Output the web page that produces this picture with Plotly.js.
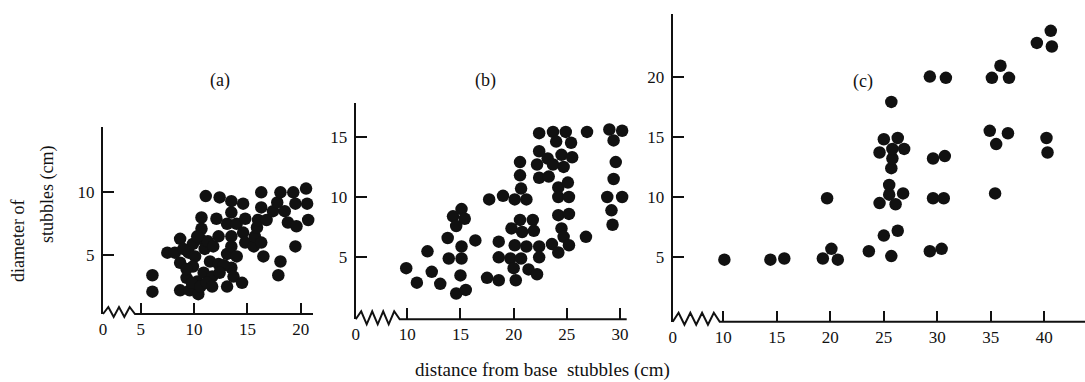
<!DOCTYPE html>
<html>
<head>
<meta charset="utf-8">
<script src="https://cdn.plot.ly/plotly-3.0.1.min.js"></script>
<style>html,body{margin:0;padding:0;background:#fff;}#chart{width:1085px;height:382px;}</style>
</head>
<body>
<div id="chart"></div>
<script>
// ---- data ----
const panelLabels = ['(a)', '(b)', '(c)'];
const xTickLabelsA = ['0', '5', '10', '15', '20'];
const xTickValsA = [5, 10, 15, 20];
const xTickLabelsB = ['0', '10', '15', '20', '25', '30'];
const xTickValsB = [10, 15, 20, 25, 30];
const xTickLabelsC = ['0', '10', '15', '20', '25', '30', '35', '40'];
const xTickValsC = [10, 15, 20, 25, 30, 35, 40];
const yTickValsA = [5, 10];
const yTickValsB = [5, 10, 15];
const yTickValsC = [5, 10, 15, 20];

const aX = [6.1,6.1,7.5,8.7,8.2,8.7,8.7,9.3,9.6,9.5,9.9,10.1,9.9,10.3,10.4,10.6,10.7,10.7,11.1,11.0,11.3,10.9,11.5,11.7,11.8,12.1,12.3,12.3,12.4,13.1,13.1,13.1,13.5,13.5,13.5,13.5,13.5,13.7,14.0,14.0,14.5,14.6,14.8,14.6,14.8,15.6,15.7,15.9,16.0,16.3,16.3,16.3,16.5,16.8,17.4,17.8,18.1,18.5,18.1,17.9,18.8,19.3,19.5,19.6,19.5,20.5,20.6,20.7,9.0,9.3,9.8,10.6,11.2,10.3,11.7,12.8,12.4];
const aY = [3.4,2.1,5.2,6.3,5.2,4.4,2.2,3.2,2.2,5.2,5.9,4.9,4.1,2.9,1.9,6.3,8.0,7.1,9.7,5.5,6.1,3.6,4.5,3.3,5.7,7.9,6.5,4.3,9.6,7.5,5.1,2.5,9.3,8.4,6.5,5.7,4.0,3.3,7.5,4.9,2.8,9.1,7.9,6.8,6.0,5.7,6.5,7.2,7.8,10.0,8.8,6.0,4.9,7.8,8.5,9.2,10.0,8.5,4.5,3.4,7.6,10.0,9.1,7.3,5.7,10.3,9.1,7.8,5.5,3.9,2.8,2.5,2.8,6.5,2.5,4.2,3.6];

const bX = [9.9,10.9,11.9,12.3,13.1,13.8,13.9,14.3,14.6,15.1,15.4,15.1,15.1,15.0,14.6,15.5,16.4,17.7,19.0,17.5,18.6,18.6,18.6,19.7,20.0,20.2,19.8,20.1,20.1,20.6,20.6,20.7,21.2,20.6,20.8,20.7,21.2,21.4,21.8,21.9,22.2,22.4,22.4,22.2,22.4,22.4,22.4,23.3,23.2,23.7,23.7,23.6,24.0,24.5,24.7,24.2,24.2,24.2,24.5,24.7,24.2,24.9,25.4,25.5,25.1,25.2,25.2,25.2,26.8,26.9,29.0,29.4,29.6,29.4,28.8,30.2,29.2,29.3,30.2];
const bY = [4.1,2.9,5.5,3.8,2.8,6.6,4.9,8.4,7.6,9.0,8.2,5.9,4.9,3.5,2.0,2.3,6.4,9.8,10.1,3.3,3.1,6.3,5.0,4.9,4.1,3.1,7.4,6.0,9.8,12.9,11.8,10.7,9.8,8.1,7.1,4.9,5.9,4.0,8.1,7.2,3.6,5.9,5.0,12.7,11.6,13.8,15.3,11.7,13.2,12.7,15.4,6.1,14.6,13.5,12.5,10.8,10.0,8.5,7.4,6.7,5.4,15.4,14.5,13.3,11.2,10.0,8.6,6.0,6.7,15.4,15.6,14.7,12.9,11.5,10.0,10.0,8.9,7.7,15.5];

const cX = [10.1,14.4,15.7,19.3,20.1,20.7,19.7,23.6,25.0,25.7,26.3,24.6,25.5,25.5,26.1,26.8,25.7,25.8,24.6,25.0,25.8,26.3,26.9,25.7,29.3,30.8,29.6,30.7,29.6,30.6,29.3,30.4,35.1,35.9,36.7,34.9,35.5,36.6,35.4,39.3,40.6,40.7,40.2,40.3];
const cY = [4.8,4.8,4.9,4.9,5.7,4.8,9.9,5.5,6.8,5.1,7.2,9.5,10.2,11.0,9.4,10.3,12.4,13.2,13.7,14.8,14.0,14.9,14.0,17.9,20.0,19.9,13.2,13.4,9.9,9.9,5.5,5.7,19.9,20.9,19.9,15.5,14.4,15.3,10.3,22.8,23.8,22.5,14.9,13.7];

// ---- layout geometry (pixels) ----
const W = 1085, H = 382;
const FONT = 'Liberation Serif';
const panels = [
  {px: [103, 313], py: [127, 314], xr: [1.47, 21.15], yr: [0.32, 15.2], tv: [1.47].concat(xTickValsA), tt: xTickLabelsA, ytv: yTickValsA, zig: [32, 3, 7, 3], x: aX, y: aY, lab: [220, 80]},
  {px: [355.7, 626.7], py: [103, 319.3], xr: [5.15, 30.63], yr: [-0.14, 17.8], tv: [5.15].concat(xTickValsB), tt: xTickLabelsB, ytv: yTickValsB, zig: [44, 4, 8, 5], x: bX, y: bY, lab: [485, 80]},
  {px: [672.7, 1085], py: [14, 321.7], xr: [5.27, 43.8], yr: [-0.35, 25.2], tv: [5.27].concat(xTickValsC), tt: xTickLabelsC, ytv: yTickValsC, zig: [47, 4, 9, 3], x: cX, y: cY, lab: [863, 82]}
];

function axisPath(pxW, pxH, zigW, nPk, up, down) {
  let p = 'M 0,0';
  const n = 2 * nPk;
  for (let i = 1; i < n; i++) {
    p += ' L ' + (zigW * i / n / pxW).toFixed(5) + ',' + ((i % 2 ? up : -down) / pxH).toFixed(5);
  }
  p += ' L ' + (zigW / pxW).toFixed(5) + ',0 L 1,0';
  return p;
}

const data = [];
const layout = {
  width: W, height: H,
  margin: {l: 0, r: 0, t: 0, b: 0},
  paper_bgcolor: '#fff', plot_bgcolor: 'rgba(0,0,0,0)',
  showlegend: false,
  font: {family: FONT, size: 17, color: '#111'},
  shapes: [], annotations: []
};

panels.forEach((p, i) => {
  const s = i === 0 ? '' : String(i + 1);
  data.push({
    type: 'scatter', mode: 'markers', x: p.x, y: p.y,
    xaxis: 'x' + s, yaxis: 'y' + s, cliponaxis: false,
    marker: {size: 12.5, color: '#111', line: {width: 0}},
    hoverinfo: 'x+y'
  });
  layout['xaxis' + s] = {
    domain: [p.px[0] / W, p.px[1] / W], range: p.xr, anchor: 'y' + s,
    showline: false, showgrid: false, zeroline: false,
    tickmode: 'array', tickvals: p.tv, ticktext: p.tt,
    ticks: 'inside', ticklen: 11, tickwidth: 2, tickcolor: '#111',
    ticklabelstandoff: 3,
    tickfont: {family: FONT, size: 17, color: '#111'}
  };
  layout['yaxis' + s] = {
    domain: [1 - p.py[1] / H, 1 - p.py[0] / H], range: p.yr, anchor: 'x' + s,
    showline: true, linewidth: 2, linecolor: '#111', mirror: false,
    showgrid: false, zeroline: false,
    tickmode: 'array', tickvals: p.ytv,
    ticks: 'inside', ticklen: 11, tickwidth: 2, tickcolor: '#111',
    ticklabelstandoff: 3,
    tickfont: {family: FONT, size: 17, color: '#111'}
  };
  layout.shapes.push({
    type: 'path', xref: 'x' + s + ' domain', yref: 'y' + s + ' domain',
    path: axisPath(p.px[1] - p.px[0], p.py[1] - p.py[0], p.zig[0], p.zig[1], p.zig[2], p.zig[3]),
    line: {color: '#111', width: 2}, layer: 'above'
  });
  layout.annotations.push({
    text: panelLabels[i], xref: 'paper', yref: 'paper',
    x: p.lab[0] / W, y: 1 - p.lab[1] / H, xanchor: 'center', yanchor: 'middle',
    showarrow: false, font: {family: FONT, size: 18, color: '#111'}
  });
});

layout.annotations.push(
  {text: 'diameter of', xref: 'paper', yref: 'paper', x: 18 / W, y: 1 - 241 / H,
   xanchor: 'center', yanchor: 'middle', textangle: -90, showarrow: false,
   font: {family: FONT, size: 18, color: '#111'}},
  {text: 'stubbles (cm)', xref: 'paper', yref: 'paper', x: 47 / W, y: 1 - 195 / H,
   xanchor: 'center', yanchor: 'middle', textangle: -90, showarrow: false,
   font: {family: FONT, size: 18, color: '#111'}},
  {text: 'distance from base  stubbles (cm)', xref: 'paper', yref: 'paper', x: 542 / W, y: 1 - 370 / H,
   xanchor: 'center', yanchor: 'middle', showarrow: false,
   font: {family: FONT, size: 19, color: '#111'}}
);

Plotly.newPlot('chart', data, layout, {displayModeBar: false, staticPlot: true});
</script>
</body>
</html>
